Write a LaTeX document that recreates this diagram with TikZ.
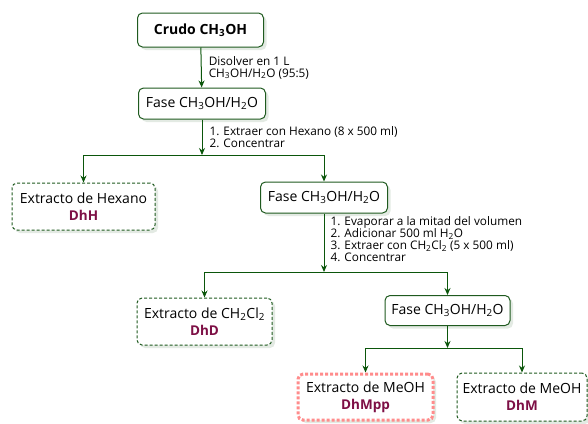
\documentclass[tikz,border=0pt]{standalone}
\usepackage{fontspec}
\setmainfont{Open Sans}
\usetikzlibrary{shadows,arrows.meta,positioning,calc}
\definecolor{leaf}{HTML}{1F5A1F}
\definecolor{stem}{HTML}{0B560B}
\definecolor{plum}{HTML}{7D0F45}
\definecolor{blush}{HTML}{FF8C8C}
\newcommand{\sbs}[1]{\textsubscript{#1}}
\newcommand{\code}[1]{{\color{plum}\bfseries\fontsize{13.5}{15}\selectfont #1}}
\tikzset{
  phase/.style={draw=leaf, line width=1pt, fill=white, rounded corners=5pt,
    align=center, inner sep=2pt, font=\fontsize{14}{16}\selectfont,
    drop shadow={shadow xshift=3pt, shadow yshift=-3pt, fill=leaf!25}},
  extract/.style={phase, dashed, dash pattern=on 3pt off 2pt},
  pick/.style={phase, draw=blush, line width=3pt, dash pattern=on 3pt off 2pt},
  flow/.style={draw=stem, line width=1pt, -{Stealth[length=7pt,width=6pt]}},
  lbl/.style={font=\fontsize{11.8}{12}\selectfont, align=left, inner sep=1pt},
}
\begin{document}
\begin{tikzpicture}[x=1pt,y=-1pt]
\useasboundingbox (0,0) rectangle (588,423);

% ----- main line -----
\node[phase, minimum width=126pt, minimum height=34pt, font=\bfseries\fontsize{14}{16}\selectfont] (crudo) at (200.5,30) {Crudo CH\sbs{3}OH};
\node[phase, minimum width=127pt, minimum height=31pt] (fase1) at (202,103.5) {Fase CH\sbs{3}OH/H\sbs{2}O};
\node[phase, minimum width=127pt, minimum height=31pt] (fase2) at (324,197.5) {Fase CH\sbs{3}OH/H\sbs{2}O};
\node[phase, minimum width=125pt, minimum height=30pt] (fase3) at (447.5,310.5) {Fase CH\sbs{3}OH/H\sbs{2}O};

% ----- extracts -----
\node[extract, minimum width=143pt, minimum height=47pt] (hex) at (83.5,206.5) {Extracto de Hexano\\[1pt]\code{DhH}};
\node[extract, minimum width=135pt, minimum height=47pt] (dhd) at (204.5,321.5) {Extracto de CH\sbs{2}Cl\sbs{2}\\[1pt]\code{DhD}};
\node[pick, minimum width=135pt, minimum height=46pt] (dhmpp) at (365.5,397) {Extracto de MeOH\\[1pt]\code{DhMpp}};
\node[extract, minimum width=130pt, minimum height=48pt] (dhm) at (522,397) {Extracto de MeOH\\[1pt]\code{DhM}};

% ----- split points -----
\coordinate (s1) at (202,155);
\coordinate (s2) at (324,272);
\coordinate (s3) at (447.5,348);

% ----- flows -----
\draw[flow] (crudo) -- node[lbl,right=6pt]{Disolver en 1 L\\CH\sbs{3}OH/H\sbs{2}O (95:5)} (fase1);
\draw[flow] (fase1) -- node[lbl,right=6pt]{1. Extraer con Hexano (8 x 500 ml)\\2. Concentrar} (s1);
\draw[flow] (s1) -| (hex);
\draw[flow] (s1) -| (fase2);

\draw[flow] (fase2) -- node[lbl,right=5pt,yshift=4pt]{1. Evaporar a la mitad del volumen\\2. Adicionar 500 ml H\sbs{2}O\\3. Extraer con CH\sbs{2}Cl\sbs{2} (5 x 500 ml)\\4. Concentrar} (s2);
\draw[flow] (s2) -| (dhd);
\draw[flow] (s2) -| (fase3);

\draw[flow] (fase3) -- (s3);
\draw[flow] (s3) -| (dhmpp);
\draw[flow] (s3) -| (dhm);

\end{tikzpicture}
\end{document}
